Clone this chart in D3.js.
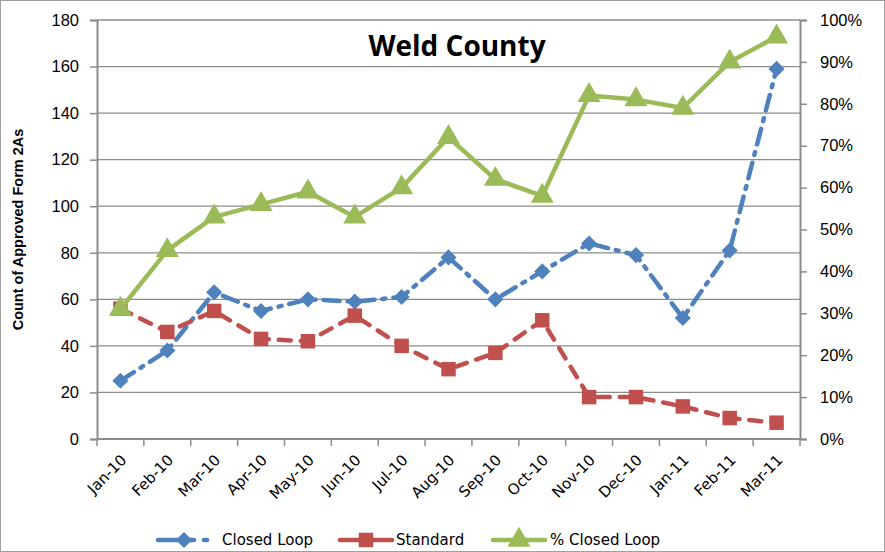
<!DOCTYPE html>
<html>
<head>
<meta charset="utf-8">
<script src="https://cdn.jsdelivr.net/npm/d3@7"></script>
<style>
  body { margin: 0; background: #fff; }
  svg { font-family: "DejaVu Sans", Verdana, sans-serif; }
</style>
</head>
<body>
<div id="chart"></div>
<script>
const months = ['Jan-10','Feb-10','Mar-10','Apr-10','May-10','Jun-10','Jul-10','Aug-10',
                'Sep-10','Oct-10','Nov-10','Dec-10','Jan-11','Feb-11','Mar-11'];
const closedLoop = [25, 38, 63, 55, 60, 59, 61, 78, 60, 72, 84, 79, 52, 81, 159];
const standard = [56, 46, 55, 43, 42, 53, 40, 30, 37, 51, 18, 18, 14, 9, 7];
const pctClosedLoop = [0.31, 0.45, 0.53, 0.56, 0.59, 0.53, 0.60, 0.72, 0.62, 0.58, 0.82, 0.81, 0.79, 0.90, 0.96];
const leftTicks = [0, 20, 40, 60, 80, 100, 120, 140, 160, 180];
const rightTicks = [0, 0.1, 0.2, 0.3, 0.4, 0.5, 0.6, 0.7, 0.8, 0.9, 1.0];

const W = 885, H = 552;
const m = { left: 97, right: 85, top: 20, bottom: 113 };

const svg = d3.select('#chart').append('svg').attr('width', W).attr('height', H);

// chart border
svg.append('rect').attr('x', 0.5).attr('y', 0.5).attr('width', W - 1).attr('height', H - 1)
  .attr('fill', 'none').attr('stroke', '#a0a0a0');

const x = d3.scaleBand().domain(months).range([m.left, W - m.right]);
const y = d3.scaleLinear().domain([0, 180]).range([H - m.bottom, m.top]);
const y2 = d3.scaleLinear().domain([0, 1]).range([H - m.bottom, m.top]);
const cx = d => x(d) + x.bandwidth() / 2;

// gridlines
svg.append('g').selectAll('line').data(leftTicks.slice(1)).join('line')
  .attr('x1', m.left).attr('x2', W - m.right)
  .attr('y1', d => y(d)).attr('y2', d => y(d))
  .attr('stroke', '#8c8c8c').attr('stroke-width', 1.3);

// left axis
const ax = svg.append('g').attr('transform', `translate(${m.left},0)`)
  .call(d3.axisLeft(y).tickValues(leftTicks).tickSize(7).tickPadding(11));
ax.select('.domain').attr('stroke', '#8c8c8c').attr('stroke-width', 2);
ax.selectAll('.tick line').attr('stroke', '#8c8c8c').attr('stroke-width', 1.5);
ax.selectAll('text').attr('font-size', 16.5).attr('fill', '#000');

// right axis
const ar = svg.append('g').attr('transform', `translate(${W - m.right},0)`)
  .call(d3.axisRight(y2).tickValues(rightTicks).tickFormat(d3.format('.0%')).tickSize(7).tickPadding(13));
ar.select('.domain').attr('stroke', '#8c8c8c').attr('stroke-width', 2);
ar.selectAll('.tick line').attr('stroke', '#8c8c8c').attr('stroke-width', 1.5);
ar.selectAll('text').attr('font-size', 16.5).attr('fill', '#000');

// bottom axis with ticks between categories
const ab = svg.append('g').attr('transform', `translate(0,${H - m.bottom})`);
ab.append('line').attr('x1', m.left).attr('x2', W - m.right)
  .attr('stroke', '#8c8c8c').attr('stroke-width', 2);
ab.selectAll('line.tk').data(months.concat(['end'])).join('line').attr('class', 'tk')
  .attr('x1', (d, i) => i < months.length ? x(d) : W - m.right)
  .attr('x2', (d, i) => i < months.length ? x(d) : W - m.right)
  .attr('y1', 0).attr('y2', 7).attr('stroke', '#8c8c8c').attr('stroke-width', 1.5);
ab.selectAll('text').data(months).join('text')
  .attr('transform', d => `translate(${cx(d) + 7},${22}) rotate(-45)`)
  .attr('text-anchor', 'end').attr('font-size', 15).text(d => d);

// y axis title
svg.append('text')
  .attr('transform', `translate(23,${(m.top + H - m.bottom) / 2}) rotate(-90)`)
  .attr('text-anchor', 'middle')
  .attr('font-family', '"Liberation Sans Narrow", "Liberation Sans", sans-serif')
  .attr('font-weight', 'bold').attr('font-size', 14.5)
  .text('Count of Approved Form 2As');

// title
svg.append('text').attr('x', 457).attr('y', 56).attr('text-anchor', 'middle')
  .attr('font-family', '"Open Sans", "DejaVu Sans", sans-serif')
  .attr('font-weight', 'bold').attr('font-size', 28).text('Weld County');

const series = [
  { name: 'Closed Loop', values: closedLoop, scale: y, color: '#4F81BD', dash: '16,8,3,8', marker: 'diamond' },
  { name: 'Standard', values: standard, scale: y, color: '#C0504D', dash: '12,10', marker: 'square' },
  { name: '% Closed Loop', values: pctClosedLoop, scale: y2, color: '#9BBB59', dash: null, marker: 'triangle' }
];

const symbolFor = k => k === 'diamond' ? d3.symbol(d3.symbolSquare, 130)
  : k === 'square' ? d3.symbol(d3.symbolSquare, 210)
  : d3.symbol(d3.symbolTriangle, 230);
const rot = k => k === 'diamond' ? ' rotate(45)' : '';

series.forEach(s => {
  const line = d3.line().x((d, i) => cx(months[i])).y(d => s.scale(d));
  svg.append('path').datum(s.values).attr('d', line)
    .attr('fill', 'none').attr('stroke', s.color).attr('stroke-width', 4.5)
    .attr('stroke-linecap', 'round').attr('stroke-linejoin', 'round')
    .attr('stroke-dasharray', s.dash);
  svg.append('g').selectAll('path').data(s.values).join('path')
    .attr('d', symbolFor(s.marker))
    .attr('transform', (d, i) => `translate(${cx(months[i])},${s.scale(d)})${rot(s.marker)}`)
    .attr('fill', s.color);
});

// legend
const legendX = [158, 340, 493];
const lg = svg.append('g').attr('transform', 'translate(0,540)');
series.forEach((s, i) => {
  const g = lg.append('g').attr('transform', `translate(${legendX[i]},0)`);
  g.append('line').attr('x1', 0).attr('x2', 52)
    .attr('stroke', s.color).attr('stroke-width', 4.5)
    .attr('stroke-dasharray', i === 0 ? '36,10,3,20' : null)
    .attr('stroke-linecap', 'round');
  g.append('path').attr('d', symbolFor(s.marker)).attr('transform', `translate(26,0)${rot(s.marker)}`)
    .attr('fill', s.color);
  g.append('text').attr('x', i === 2 ? 57 : (i === 0 ? 64 : 56)).attr('y', 5)
    .attr('font-size', 15).text(s.name);
});
</script>
</body>
</html>
